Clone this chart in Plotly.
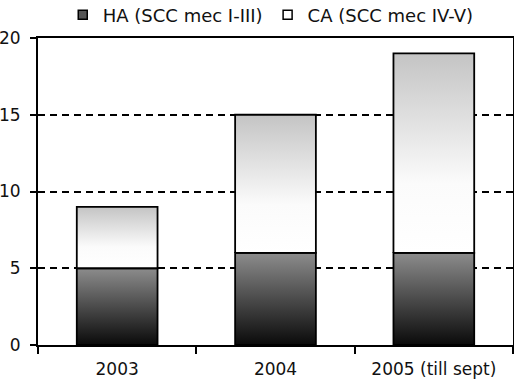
import plotly.graph_objects as go

categories = ["2003", "2004", "2005 (till sept)"]
ha_values = [5, 6, 6]
ca_values = [4, 9, 13]
series_names = ["HA (SCC mec I-III)", "CA (SCC mec IV-V)"]
y_ticks = [0, 5, 10, 15, 20]

BAR_WIDTH = 0.51
HA_SCALE = [[0, "#0a0a0a"], [1, "#8c8c8c"]]
CA_SCALE = [[0, "#ffffff"], [0.35, "#fbfbfb"], [1, "#c4c4c4"]]

fig = go.Figure()


def add_segment(i, base, value, name, scale):
    x0, x1 = i - BAR_WIDTH / 2, i + BAR_WIDTH / 2
    top = base + value
    fig.add_trace(go.Scatter(
        x=[x0, x1, x1, x0, x0], y=[base, base, top, top, base],
        mode="lines", fill="toself",
        fillgradient=dict(type="vertical", colorscale=scale, start=base, stop=top),
        line=dict(color="black", width=1.8),
        name=name, legendgroup=name, showlegend=False, hoverinfo="skip"))


for i, v in enumerate(ha_values):
    add_segment(i, 0, v, series_names[0], HA_SCALE)
for i, v in enumerate(ca_values):
    add_segment(i, ha_values[i], v, series_names[1], CA_SCALE)

# legend entries (square swatches)
for name, col in zip(series_names, ["#555555", "#ffffff"]):
    fig.add_trace(go.Scatter(
        x=[None], y=[None], mode="markers", name=name, legendgroup=name,
        marker=dict(symbol="square", size=9, color=col, line=dict(color="black", width=1.5))))

font = dict(family="DejaVu Sans, sans-serif", size=17, color="#111111")

fig.update_layout(
    width=514, height=386,
    margin=dict(l=38, r=1, t=38, b=41),
    paper_bgcolor="white", plot_bgcolor="white",
    font=font,
    showlegend=True,
    legend=dict(orientation="h", x=0.49, xanchor="center",
                yref="container", y=1 - 15 / 386, yanchor="middle",
                font=dict(size=18), itemwidth=30, tracegroupgap=0,
                bgcolor="rgba(0,0,0,0)"),
    xaxis=dict(range=[-0.5, len(categories) - 0.5],
               tickmode="array", tickvals=list(range(len(categories))), ticktext=categories,
               ticks="", showgrid=False, zeroline=False, automargin=False,
               ticklabelstandoff=8,
               minor=dict(tickmode="array",
                          tickvals=[i - 0.5 for i in range(len(categories) + 1)],
                          ticks="outside", ticklen=7, tickcolor="black", tickwidth=1.5,
                          showgrid=False),
               showline=True, linecolor="black", linewidth=2, mirror=True,
               fixedrange=True),
    yaxis=dict(range=[0, 20], tickmode="array", tickvals=y_ticks,
               ticks="outside", ticklen=6, tickcolor="black", tickwidth=1.5,
               ticklabelstandoff=6,
               showgrid=True, gridcolor="black", gridwidth=1.8, griddash="7px,5px",
               zeroline=False, automargin=False,
               showline=True, linecolor="black", linewidth=2, mirror=True,
               fixedrange=True),
)

fig.write_html("out.html", config={"displayModeBar": False},
               post_script="document.body.style.margin='0';document.body.style.overflow='hidden';")
